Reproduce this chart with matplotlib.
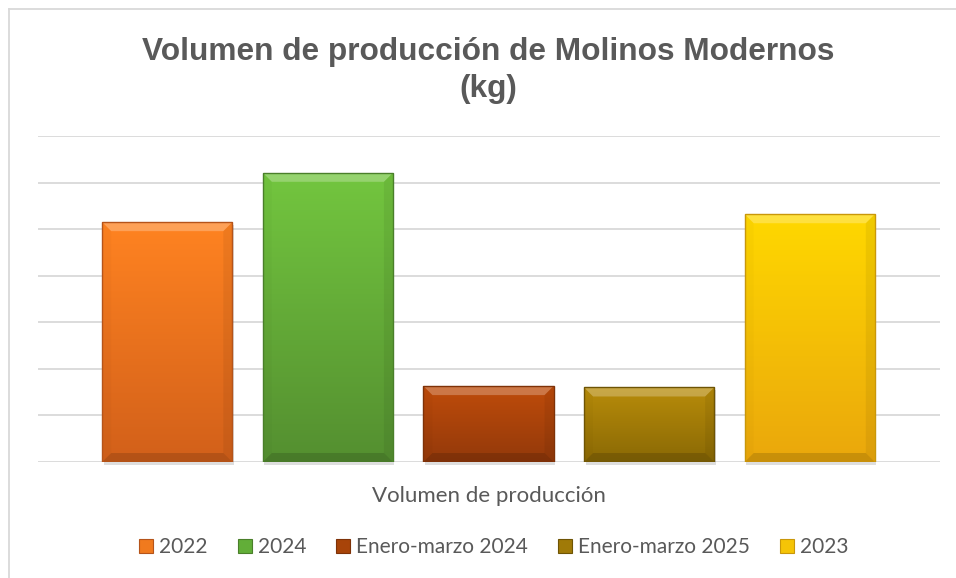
import numpy as np
import matplotlib.pyplot as plt
from matplotlib.patches import Rectangle, Polygon, Patch
from matplotlib.lines import Line2D
from matplotlib.colors import LinearSegmentedColormap

# data
series = ['2022', '2024', 'Enero-marzo 2024', 'Enero-marzo 2025', '2023']
values = [5.15, 6.21, 1.63, 1.60, 5.32]   # in grid units (axis has no labels)
category = 'Volumen de producción'
title_l1 = 'Volumen de producción de Molinos Modernos'
title_l2 = '(kg)'

top_colors = ['#FF8321', '#73C63F', '#BF4C0B', '#B88C0A', '#FFD800']
bottom_colors = ['#D2601A', '#548F30', '#93390A', '#8A6905', '#EAA70C']
edge_colors = ['#B5541A', '#4A7F2A', '#7E3208', '#6E5404', '#C9970A']
legend_colors = ['#F07A1E', '#62AE38', '#A84409', '#A07A08', '#F5C406']

W, H = 956, 578
fig = plt.figure(figsize=(W / 100, H / 100), dpi=100)

# chart border (left and top only visible)
fig.add_artist(Line2D([9 / W, 9 / W], [0, 1 - 9 / H], color='#D9D9D9', lw=1.3))
fig.add_artist(Line2D([9 / W, 1], [1 - 9 / H, 1 - 9 / H], color='#D9D9D9', lw=1.3))

ax = fig.add_axes([38 / W, 116 / H, 902 / W, 326 / H])
xmin, xmax, ymax = -0.805, 4.811, 7
pxx = 902 / (xmax - xmin)
pxy = 326 / ymax

x = np.arange(len(series))
bw = 0.81
bars = ax.bar(x, values, width=bw, color='none', edgecolor=edge_colors,
              linewidth=1, zorder=4)

grad = np.linspace(0, 1, 200).reshape(-1, 1)
bx, by = 9 / pxx, 9 / pxy
for i, b in enumerate(bars):
    x0, y0 = b.get_x(), b.get_y()
    x1, y1 = x0 + b.get_width(), y0 + b.get_height()
    # soft shadow
    ax.add_patch(Rectangle((x0 + 1.5 / pxx, y0 - 3 / pxy), x1 - x0, y1 - y0,
                           color='black', alpha=0.13, lw=0, zorder=2, clip_on=False))
    cmap = LinearSegmentedColormap.from_list('g%d' % i, [bottom_colors[i], top_colors[i]])
    im = ax.imshow(grad, cmap=cmap, extent=(x0, x1, y0, y1), origin='lower',
                   aspect='auto', zorder=3, interpolation='bilinear')
    im.set_clip_path(b)
    # bevel
    ax.add_patch(Polygon([(x0, y1), (x1, y1), (x1 - bx, y1 - by), (x0 + bx, y1 - by)],
                         closed=True, color='white', alpha=0.25, lw=0, zorder=3.5))
    ax.add_patch(Polygon([(x0, y0), (x1, y0), (x1 - bx, y0 + by), (x0 + bx, y0 + by)],
                         closed=True, color='black', alpha=0.14, lw=0, zorder=3.5))
    ax.add_patch(Polygon([(x0, y0), (x0, y1), (x0 + bx, y1 - by), (x0 + bx, y0 + by)],
                         closed=True, color='black', alpha=0.02, lw=0, zorder=3.5))
    ax.add_patch(Polygon([(x1, y0), (x1, y1), (x1 - bx, y1 - by), (x1 - bx, y0 + by)],
                         closed=True, color='black', alpha=0.06, lw=0, zorder=3.5))

ax.set_xlim(xmin, xmax)
ax.set_ylim(0, ymax)
ax.set_yticks(np.arange(0, ymax + 1, 1))
ax.yaxis.grid(True, color='#D9D9D9', linewidth=1.3)
ax.set_axisbelow(True)
for s in ax.spines.values():
    s.set_visible(False)
ax.tick_params(left=False, bottom=False, labelleft=False, labelbottom=False)

# title
fig.text(488 / W, 1 - 60 / H, title_l1, ha='center', va='baseline',
         fontsize=22.8, fontweight='bold', color='#595959', family='Liberation Sans')
fig.text(488 / W, 1 - 97 / H, title_l2, ha='center', va='baseline',
         fontsize=22.8, fontweight='bold', color='#595959', family='Liberation Sans')

# category label
fig.text(489 / W, 1 - 502 / H, category, ha='center', va='baseline',
         fontsize=16, color='#595959', family='Lato')

handles = [Patch(facecolor=legend_colors[i], edgecolor=edge_colors[i], lw=0.8)
           for i in range(len(series))]
fig.legend(handles, series, loc='center', bbox_to_anchor=(494 / W, 1 - 547 / H),
           ncol=5, frameon=False, handlelength=0.65, handleheight=0.65,
           handletextpad=0.3, columnspacing=1.45,
           prop={'family': 'Lato', 'size': 15}, labelcolor='#595959')

fig.savefig('out.png', dpi=100)
